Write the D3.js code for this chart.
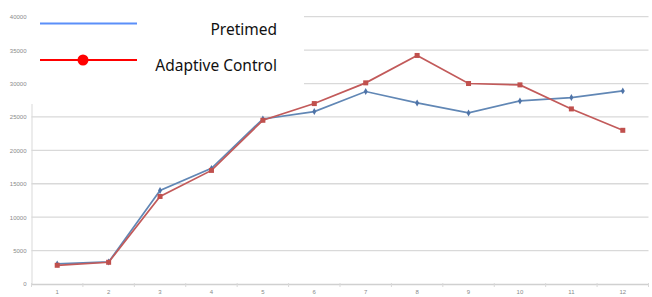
<!DOCTYPE html>
<html>
<head>
<meta charset="utf-8">
<script src="https://cdn.jsdelivr.net/npm/d3@7"></script>
<style>
  body { margin: 0; background: #fff; }
  svg { display: block; }
</style>
</head>
<body>
<svg id="chart" width="652" height="297"></svg>
<script>
// data
var periods = ["1", "2", "3", "4", "5", "6", "7", "8", "9", "10", "11", "12"];
var pretimed = [3000, 3300, 14000, 17300, 24700, 25800, 28800, 27100, 25600, 27400, 27900, 28900];
var adaptive = [2800, 3250, 13100, 17000, 24500, 27000, 30100, 34200, 30000, 29800, 26200, 23000];
var yTicks = [0, 5000, 10000, 15000, 20000, 25000, 30000, 35000, 40000];
var legendNames = ["Pretimed", "Adaptive Control"];

var svg = d3.select("#chart");
var plotLeft = 31.5, plotRight = 648.5, plotTop = 16.7, plotBottom = 284;

var x = d3.scaleBand().domain(periods).range([plotLeft, plotRight]);
var y = d3.scaleLinear().domain([0, 40000]).range([plotBottom, plotTop]);

// gridlines
svg.append("g")
	.selectAll("line")
	.data(yTicks.slice(1))
	.enter().append("line")
	.attr("x1", plotLeft).attr("x2", plotRight)
	.attr("y1", function(d) { return y(d); })
	.attr("y2", function(d) { return y(d); })
	.style("stroke", "#d9d9d9")
	.style("stroke-width", 1.3);

// y axis
var yAxis = svg.append("g")
	.attr("transform", "translate(" + plotLeft + ",0)")
	.call(d3.axisLeft(y).tickValues(yTicks).tickFormat(d3.format("d")).tickSize(0).tickPadding(5));
yAxis.select(".domain").style("stroke", "#d9d9d9");
yAxis.selectAll("text")
	.style("font-family", "Liberation Sans")
	.style("font-size", "6px")
	.style("fill", "#8a8a8a");

// x axis with ticks between categories
var xAxis = svg.append("g")
	.attr("transform", "translate(0," + plotBottom + ")")
	.call(d3.axisBottom(x).tickSize(0).tickPadding(6));
xAxis.select(".domain").style("stroke", "#d0d0d0").style("stroke-width", 1.3);
xAxis.selectAll("text")
	.style("font-family", "Liberation Sans")
	.style("font-size", "6px")
	.style("fill", "#8a8a8a");
svg.append("g")
	.selectAll("line")
	.data(periods.concat(["end"]))
	.enter().append("line")
	.attr("x1", function(d, i) { return plotLeft + i * x.step(); })
	.attr("x2", function(d, i) { return plotLeft + i * x.step(); })
	.attr("y1", plotBottom - 1).attr("y2", plotBottom + 3)
	.style("stroke", "#d9d9d9");

// legend box sits over the top-left of the plot
svg.append("rect")
	.attr("x", plotLeft - 1).attr("y", 0)
	.attr("width", 305 - plotLeft).attr("height", 104)
	.style("fill", "#fff");

function cx(d, i) { return x(periods[i]) + x.bandwidth() / 2; }

var line = d3.line()
	.x(cx)
	.y(function(d) { return y(d); });

svg.append("path")
	.datum(pretimed)
	.attr("d", line)
	.style("fill", "none")
	.style("stroke", "#6187b5")
	.style("stroke-width", 1.7);

svg.append("path")
	.datum(adaptive)
	.attr("d", line)
	.style("fill", "none")
	.style("stroke", "#c25a5a")
	.style("stroke-width", 1.7);

svg.append("g").selectAll("path")
	.data(pretimed)
	.enter().append("path")
	.attr("d", d3.symbol().type(d3.symbolDiamond).size(14))
	.attr("transform", function(d, i) { return "translate(" + cx(d, i) + "," + y(d) + ")"; })
	.style("fill", "#4f74a8");

svg.append("g").selectAll("rect")
	.data(adaptive)
	.enter().append("rect")
	.attr("x", function(d, i) { return cx(d, i) - 2.5; })
	.attr("y", function(d) { return y(d) - 2.5; })
	.attr("width", 5).attr("height", 5)
	.style("fill", "#c0504d");

// legend
svg.append("line")
	.attr("x1", 40).attr("x2", 137).attr("y1", 23.5).attr("y2", 23.5)
	.style("stroke", "#5b8ff9").style("stroke-width", 2);
svg.append("line")
	.attr("x1", 40).attr("x2", 137).attr("y1", 60).attr("y2", 60)
	.style("stroke", "#ff0000").style("stroke-width", 2);
svg.append("circle")
	.attr("cx", 83).attr("cy", 60).attr("r", 5.5)
	.style("fill", "#ff0000");

svg.append("g").selectAll("text")
	.data(legendNames)
	.enter().append("text")
	.attr("x", 277)
	.attr("y", function(d, i) { return 35 + i * 35.5; })
	.attr("text-anchor", "end")
	.style("font-family", "Noto Sans")
	.style("font-size", "15.5px")
	.style("fill", "#111")
	.text(function(d) { return d; });
</script>
</body>
</html>
